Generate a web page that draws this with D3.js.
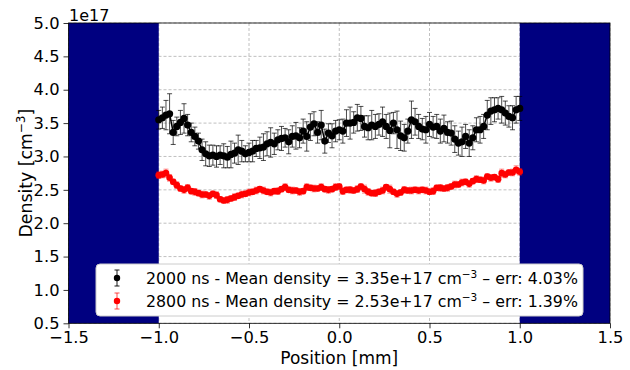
<!DOCTYPE html>
<html><head><meta charset="utf-8">
<script src="https://cdn.jsdelivr.net/npm/d3@7"></script>
<style>body{margin:0;background:#fff}svg{display:block;font-family:"DejaVu Sans",sans-serif}</style>
</head><body>
<svg id="c" width="630" height="370"></svg>
<script>
const positions = [-1.00,-0.98,-0.96,-0.94,-0.92,-0.90,-0.88,-0.86,-0.84,-0.82,-0.80,-0.78,-0.76,-0.74,-0.72,-0.70,-0.68,-0.66,-0.64,-0.62,-0.60,-0.58,-0.56,-0.54,-0.52,-0.50,
-0.48,-0.46,-0.44,-0.42,-0.40,-0.38,-0.36,-0.34,-0.32,-0.30,-0.28,-0.26,-0.24,-0.22,-0.20,-0.18,-0.16,-0.14,-0.12,-0.10,-0.08,-0.06,-0.04,-0.02,0.00,
0.02,0.04,0.06,0.08,0.10,0.12,0.14,0.16,0.18,0.20,0.22,0.24,0.26,0.28,0.30,0.32,0.34,0.36,0.38,0.40,0.42,0.44,0.46,0.48,0.50,
0.52,0.54,0.56,0.58,0.60,0.62,0.64,0.66,0.68,0.70,0.72,0.74,0.76,0.78,0.80,0.82,0.84,0.86,0.88,0.90,0.92,0.94,0.96,0.98,1.00];

// density in units of 1e17 cm^-3
const density2000 = [3.55,3.58,3.62,3.64,3.36,3.45,3.51,3.57,3.47,3.36,3.30,3.23,3.10,3.04,3.01,3.02,3.00,3.02,3.01,2.99,3.03,3.05,3.10,3.08,3.04,3.06,
3.08,3.12,3.13,3.14,3.19,3.21,3.19,3.25,3.27,3.28,3.22,3.30,3.31,3.28,3.38,3.30,3.44,3.49,3.36,3.47,3.23,3.35,3.31,3.38,3.40,
3.38,3.50,3.50,3.51,3.58,3.57,3.45,3.43,3.47,3.45,3.48,3.52,3.45,3.39,3.50,3.40,3.31,3.28,3.38,3.55,3.52,3.45,3.41,3.40,3.48,
3.44,3.45,3.38,3.42,3.36,3.35,3.26,3.20,3.22,3.30,3.20,3.28,3.40,3.40,3.45,3.62,3.68,3.70,3.72,3.70,3.65,3.60,3.58,3.70,3.72];
const error2000 = [0.14,0.16,0.22,0.30,0.18,0.14,0.18,0.22,0.16,0.14,0.14,0.12,0.16,0.18,0.16,0.15,0.16,0.14,0.18,0.16,0.20,0.15,0.22,0.16,0.12,0.14,
0.16,0.12,0.16,0.20,0.18,0.22,0.16,0.15,0.18,0.14,0.18,0.16,0.20,0.15,0.18,0.22,0.20,0.18,0.16,0.22,0.18,0.14,0.18,0.16,0.15,
0.18,0.20,0.24,0.16,0.20,0.18,0.16,0.18,0.22,0.18,0.16,0.22,0.18,0.26,0.16,0.28,0.22,0.20,0.18,0.28,0.20,0.18,0.16,0.20,0.18,
0.16,0.18,0.18,0.20,0.16,0.18,0.20,0.18,0.22,0.18,0.20,0.18,0.18,0.20,0.18,0.22,0.20,0.18,0.16,0.20,0.18,0.16,0.18,0.20,0.18];
const density2800 = [2.72,2.73,2.75,2.68,2.62,2.57,2.52,2.50,2.53,2.48,2.47,2.45,2.43,2.43,2.41,2.44,2.42,2.36,2.34,2.35,2.37,2.39,2.41,2.43,2.44,2.46,
2.47,2.49,2.51,2.49,2.47,2.46,2.48,2.48,2.51,2.54,2.50,2.49,2.49,2.47,2.48,2.54,2.53,2.52,2.52,2.54,2.51,2.50,2.51,2.54,2.55,
2.48,2.50,2.50,2.49,2.51,2.55,2.51,2.47,2.45,2.45,2.47,2.49,2.54,2.51,2.47,2.44,2.46,2.50,2.49,2.49,2.50,2.49,2.50,2.49,2.47,
2.48,2.53,2.53,2.52,2.53,2.55,2.58,2.58,2.61,2.62,2.59,2.63,2.66,2.65,2.64,2.70,2.68,2.69,2.66,2.75,2.73,2.76,2.76,2.80,2.77];
const error2800 = [0.05,0.05,0.06,0.05,0.04,0.05,0.04,0.05,0.05,0.04,0.05,0.04,0.05,0.04,0.05,0.04,0.05,0.04,0.04,0.05,0.04,0.05,0.04,0.05,0.04,0.05,
0.04,0.05,0.04,0.05,0.04,0.05,0.04,0.05,0.04,0.05,0.04,0.05,0.04,0.05,0.04,0.05,0.04,0.05,0.04,0.05,0.04,0.05,0.04,0.05,0.04,
0.05,0.04,0.05,0.04,0.05,0.04,0.06,0.05,0.04,0.05,0.04,0.05,0.04,0.06,0.04,0.05,0.04,0.05,0.04,0.05,0.04,0.05,0.04,0.05,0.04,
0.05,0.04,0.05,0.04,0.05,0.04,0.05,0.04,0.05,0.04,0.05,0.04,0.05,0.04,0.05,0.04,0.05,0.04,0.05,0.06,0.05,0.04,0.05,0.06,0.05];

const xTicks = [-1.5,-1.0,-0.5,0.0,0.5,1.0,1.5];
const yTicks = [0.5,1.0,1.5,2.0,2.5,3.0,3.5,4.0,4.5,5.0];
const shadedRanges = [[-1.5,-1.0],[1.0,1.5]];
const seriesNames = ["2000 ns - Mean density = 3.35e+17 cm", "2800 ns - Mean density = 2.53e+17 cm"];
const seriesTails = [" \u2013 err: 4.03%", " \u2013 err: 1.39%"];
const seriesColors = ["#000000", "#ff0000"];

const L = 68.5, R = 610, T = 23, B = 323.3;
const svg = d3.select("#c");
const x = d3.scaleLinear().domain([-1.5,1.5]).range([L,R]);
const y = d3.scaleLinear().domain([0.5,5.0]).range([B,T]);

// grid
const grid = svg.append("g");
grid.selectAll(".gx").data(xTicks).join("line")
  .attr("x1", d=>x(d)).attr("x2", d=>x(d)).attr("y1", T).attr("y2", B)
  .attr("stroke", "#b0b0b0").attr("stroke-width", 0.8).attr("stroke-dasharray", "3,2");
grid.selectAll(".gy").data(yTicks).join("line")
  .attr("x1", L).attr("x2", R).attr("y1", d=>y(d)).attr("y2", d=>y(d))
  .attr("stroke", "#b0b0b0").attr("stroke-width", 0.8).attr("stroke-dasharray", "3,2");

// shaded regions
svg.append("g").selectAll("rect").data(shadedRanges).join("rect")
  .attr("x", d=>x(d[0])).attr("width", d=>x(d[1])-x(d[0]))
  .attr("y", T).attr("height", B-T).attr("fill", "#000080");

function drawSeries(vals, errs, color, r, errOpacity) {
  const g = svg.append("g");
  const pts = positions.map((p,i)=>({p, v: vals[i], e: errs[i]}));
  const eg = g.append("g").attr("stroke", color).attr("stroke-opacity", errOpacity).attr("stroke-width", 1);
  pts.forEach(d => {
    eg.append("line").attr("x1", x(d.p)).attr("x2", x(d.p)).attr("y1", y(d.v-d.e)).attr("y2", y(d.v+d.e));
    eg.append("line").attr("x1", x(d.p)-2.5).attr("x2", x(d.p)+2.5).attr("y1", y(d.v-d.e)).attr("y2", y(d.v-d.e));
    eg.append("line").attr("x1", x(d.p)-2.5).attr("x2", x(d.p)+2.5).attr("y1", y(d.v+d.e)).attr("y2", y(d.v+d.e));
  });
  g.append("path").datum(pts)
    .attr("d", d3.line().x(d=>x(d.p)).y(d=>y(d.v)))
    .attr("fill", "none").attr("stroke", color).attr("stroke-width", 1.5);
  g.selectAll("circle").data(pts).join("circle")
    .attr("cx", d=>x(d.p)).attr("cy", d=>y(d.v)).attr("r", r).attr("fill", color);
}
drawSeries(density2000, error2000, seriesColors[0], 3.6, 0.7);
drawSeries(density2800, error2800, seriesColors[1], 3.3, 0.45);

// frame
svg.append("rect").attr("x", L).attr("y", T).attr("width", R-L).attr("height", B-T)
  .attr("fill", "none").attr("stroke", "#000").attr("stroke-width", 0.8);

// axes
const xAxis = svg.append("g").attr("transform", `translate(0,${B})`)
  .call(d3.axisBottom(x).tickValues(xTicks).tickSize(5).tickPadding(3)
    .tickFormat(d => d3.format(".1f")(d).replace("-", "\u2212")));
const yAxis = svg.append("g").attr("transform", `translate(${L},0)`)
  .call(d3.axisLeft(y).tickValues(yTicks).tickSize(5).tickPadding(4).tickFormat(d3.format(".1f")));
[xAxis, yAxis].forEach(a => {
  a.select(".domain").remove();
  a.selectAll("line").attr("stroke", "#000").attr("stroke-width", 0.8);
  a.selectAll("text").attr("font-size", 16.3).attr("fill", "#000").attr("font-family", "DejaVu Sans");
});

svg.append("text").attr("x", 69).attr("y", 20.5).attr("font-size", 16).text("1e17");
svg.append("text").attr("x", (L+R)/2).attr("y", 363.5).attr("text-anchor", "middle").attr("font-size", 17).text("Position [mm]");
const yl = svg.append("text").attr("transform", `translate(32,${(T+B)/2}) rotate(-90)`)
  .attr("text-anchor", "middle").attr("font-size", 17.3);
yl.append("tspan").text("Density [cm");
yl.append("tspan").attr("font-size", 12).attr("dy", -7).text("\u22123");
yl.append("tspan").attr("dy", 7).text("]");

// legend
const lg = svg.append("g");
lg.append("rect").attr("x", 96).attr("y", 264).attr("width", 487).attr("height", 52).attr("rx", 4)
  .attr("fill", "#fff").attr("stroke", "#cccccc").attr("stroke-width", 1);
[0,1].forEach(i => {
  const cy = 278 + i*23;
  const c = seriesColors[i];
  const gi = lg.append("g").attr("stroke", c).attr("stroke-opacity", i===0?0.9:0.7).attr("stroke-width", 1);
  gi.append("line").attr("x1", 117).attr("x2", 117).attr("y1", cy-8).attr("y2", cy+8);
  gi.append("line").attr("x1", 114.5).attr("x2", 119.5).attr("y1", cy-8).attr("y2", cy-8);
  gi.append("line").attr("x1", 114.5).attr("x2", 119.5).attr("y1", cy+8).attr("y2", cy+8);
  lg.append("circle").attr("cx", 117).attr("cy", cy).attr("r", 3.2).attr("fill", c);
  const t = lg.append("text").attr("x", 146).attr("y", cy+5.5).attr("font-size", 15.8);
  t.append("tspan").text(seriesNames[i]);
  t.append("tspan").attr("font-size", 10.5).attr("dy", -6).text("\u22123");
  t.append("tspan").attr("dy", 6).text(seriesTails[i]);
});
</script>
</body></html>
